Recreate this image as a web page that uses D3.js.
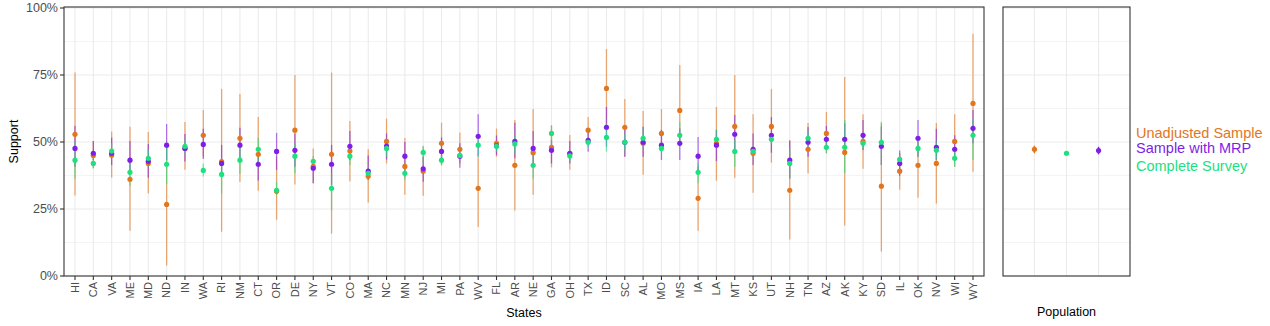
<!DOCTYPE html>
<html>
<head>
<meta charset="utf-8">
<script src="https://cdnjs.cloudflare.com/ajax/libs/d3/7.8.5/d3.min.js"></script>
<style>
  html, body { margin: 0; padding: 0; background: #fff; }
  svg { display: block; font-family: "Liberation Sans", Arial, sans-serif; }
</style>
</head>
<body>
<svg id="chart" width="1270" height="326"></svg>
<script>
// ---------------- data (percent) ----------------
const states = ["HI","CA","VA","ME","MD","ND","IN","WA","RI","NM","CT","OR","DE","NY","VT","CO","MA","NC","MN","NJ",
  "MI","PA","WV","FL","AR","NE","GA","OH","TX","ID","SC","AL","MO","MS","IA","LA","MT","KS","UT","NH",
  "TN","AZ","AK","KY","SD","IL","OK","NV","WI","WY"];

const seriesNames = ["Unadjusted Sample", "Sample with MRP", "Complete Survey"];
// order of the three estimates in the Population panel
const popOrder = ["Unadjusted Sample", "Complete Survey", "Sample with MRP"];

const unadjusted = [52.9,45.0,45.1,36.1,42.0,26.7,47.6,52.5,42.7,51.4, 45.4,31.6,54.4,40.9,45.4,46.6,37.2,50.2,40.9,39.1,
  49.5,47.3,32.7,49.5,41.3,46.0,48.0,45.6,54.4,70.0, 55.5,49.5,53.2,61.8,29.0,49.5,55.8,45.8,55.8,32.0,
  47.3,53.2,46.1,50.2,33.5,39.1,41.3,42.0,50.2,64.4];
const unadjustedLow = [30.0,40.2,36.7,16.9,30.8,3.9,39.6,44.5,16.5,35.1, 31.8,21.0,34.1,34.6,15.8,35.4,27.4,42.0,30.3,29.9,
  41.4,42.0,18.3,44.5,24.4,30.3,40.5,39.6,49.5,56.3, 44.5,37.8,47.0,49.5,16.9,35.6,36.7,31.1,42.3,13.6,
  38.2,45.8,18.8,40.0,9.1,32.2,29.2,27.0,40.8,38.9];
const unadjustedHigh = [75.9,50.4,53.9,55.7,53.7,49.6,57.5,61.9,69.8,67.9, 59.3,44.5,75.0,47.6,75.9,57.8,47.3,58.7,51.5,48.3,
  57.2,53.5,44.3,55.0,58.2,62.3,56.3,52.6,59.3,84.7, 66.0,61.6,62.3,78.7,40.8,63.1,75.0,60.4,69.8,50.7,
  57.1,61.2,74.3,60.4,57.0,45.8,50.7,57.1,60.4,90.4];

const mrp = [47.6,45.8,45.8,43.2,42.8,48.8,47.6,49.1,42.0,48.8, 41.7,46.5,46.9,40.2,41.7,48.4,39.1,48.5,44.7,40.0,
  46.5,44.7,52.1,48.6,50.2,47.6,46.9,45.8,50.6,55.5, 49.9,49.9,48.8,49.5,44.7,48.8,52.9,47.3,52.5,43.2,
  49.9,51.0,51.0,52.5,48.4,42.0,51.4,48.0,47.3,55.1];
const mrpLow = [40.8,43.3,41.4,38.3,36.7,43.3,42.7,43.7,37.1,43.3, 35.6,39.6,40.8,34.6,34.0,43.3,35.8,43.5,37.1,35.2,
  42.0,40.4,44.5,45.1,43.9,40.8,42.0,42.0,46.4,48.3, 44.5,44.5,43.3,43.3,38.3,42.9,46.4,41.4,46.0,36.4,
  44.5,47.0,45.1,47.0,41.4,37.4,44.5,43.3,43.3,49.5];
const mrpHigh = [56.0,50.4,51.6,50.4,49.3,56.7,53.0,54.9,48.9,55.3, 46.4,53.4,53.2,43.5,48.9,54.1,45.0,53.2,50.0,44.5,
  51.7,49.5,60.4,52.4,57.2,54.1,50.7,50.4,53.9,63.1, 55.1,55.7,54.5,55.1,51.9,54.5,60.1,53.2,59.3,50.5,
  55.6,56.0,57.0,58.2,55.7,46.8,58.2,54.9,52.5,61.9];

const survey = [43.2,42.0,46.6,38.7,43.9,41.7,48.4,39.4,37.9,43.2, 47.3,32.0,44.7,42.8,32.7,44.7,38.3,47.6,38.3,46.1,
  43.2,45.0,48.8,48.4,49.3,41.3,53.2,44.8,49.9,51.7, 49.9,51.4,47.6,52.5,38.7,51.0,46.5,46.5,51.0,42.0,
  51.4,48.0,48.0,49.5,49.9,43.5,47.6,46.9,43.9,52.5];
const surveyLow = [36.4,40.2,43.9,33.7,40.8,34.2,45.8,37.1,30.8,38.1, 42.0,30.2,38.3,40.8,24.4,41.4,35.8,44.5,35.8,42.0,
  41.2,43.3,44.5,46.4,45.8,36.4,48.3,42.7,48.3,46.4, 46.5,47.6,45.8,48.3,34.6,48.3,40.8,44.5,49.1,36.4,
  48.3,45.8,38.3,47.0,41.4,41.4,44.5,43.3,40.8,43.3];
const surveyHigh = [50.1,44.5,49.5,43.3,47.0,48.3,50.7,42.0,43.9,48.3, 51.6,35.2,49.5,44.8,38.3,48.3,40.8,50.1,40.2,48.6,
  45.1,46.4,50.7,50.1,52.6,45.8,56.0,47.0,51.5,57.0, 53.2,55.1,49.5,57.5,42.0,54.7,50.7,48.3,53.2,47.6,
  54.3,50.1,58.2,51.6,57.6,45.4,50.7,50.1,46.4,58.2];

// Population panel (Unadjusted, MRP, Complete Survey)
const popEstimate = [47.3, 46.8, 45.8];
const popLow = [45.8, 45.4, 45.8];
const popHigh = [48.6, 48.2, 45.8];

const yTicks = [0, 25, 50, 75, 100];
const yTickLabels = ["0%", "25%", "50%", "75%", "100%"];
const yMinor = [12.5, 37.5, 62.5, 87.5];

// ---------------- styling / layout ----------------
const colors = ["#E2761E", "#7F1EE6", "#1EE07F"];
const svg = d3.select("#chart");
const pTop = 7, pBottom = 276;
const L = {x0: 64, x1: 984};
const R = {x0: 1003, x1: 1130};

const y = d3.scaleLinear().domain([0, 100]).range([pBottom, 8]);
const x = d3.scalePoint().domain(states).range([L.x0, L.x1]).padding(0.6);
const xp = d3.scalePoint().domain(popOrder).range([R.x0, R.x1]).padding(0.98);

function panelGrid(x0, x1, xs) {
  const g = svg.append("g");
  g.selectAll(".minor").data(yMinor).join("line")
    .attr("x1", x0).attr("x2", x1).attr("y1", d => y(d)).attr("y2", d => y(d))
    .attr("stroke", "#EFEFEF").attr("stroke-width", 0.7);
  g.selectAll(".major").data(yTicks).join("line")
    .attr("x1", x0).attr("x2", x1).attr("y1", d => y(d)).attr("y2", d => y(d))
    .attr("stroke", "#EBEBEB").attr("stroke-width", 1.1);
  g.selectAll(".vmaj").data(xs).join("line")
    .attr("x1", d => d).attr("x2", d => d).attr("y1", pTop).attr("y2", pBottom)
    .attr("stroke", "#EBEBEB").attr("stroke-width", 1.1);
  return g;
}

panelGrid(L.x0, L.x1, states.map(s => x(s)));
panelGrid(R.x0, R.x1, popOrder.map(s => xp(s)));

// ---------------- marks: left panel ----------------
const seriesData = [
  {est: unadjusted, lo: unadjustedLow, hi: unadjustedHigh},
  {est: mrp, lo: mrpLow, hi: mrpHigh},
  {est: survey, lo: surveyLow, hi: surveyHigh}
];

seriesData.forEach((s, k) => {
  const rows = states.map((st, i) => ({st, est: s.est[i], lo: s.lo[i], hi: s.hi[i]}));
  svg.append("g").selectAll("line").data(rows).join("line")
    .attr("x1", d => x(d.st)).attr("x2", d => x(d.st))
    .attr("y1", d => y(d.lo)).attr("y2", d => y(d.hi))
    .attr("stroke", colors[k]).attr("stroke-opacity", 0.6).attr("stroke-width", 1.3);
});
seriesData.forEach((s, k) => {
  const rows = states.map((st, i) => ({st, est: s.est[i]}));
  svg.append("g").selectAll("circle").data(rows).join("circle")
    .attr("cx", d => x(d.st)).attr("cy", d => y(d.est)).attr("r", 2.6)
    .attr("fill", colors[k]);
});

// ---------------- marks: right panel ----------------
const popRows = seriesNames.map((n, i) => ({n, est: popEstimate[i], lo: popLow[i], hi: popHigh[i], c: colors[i]}));
svg.append("g").selectAll("line").data(popRows).join("line")
  .attr("x1", d => xp(d.n)).attr("x2", d => xp(d.n))
  .attr("y1", d => y(d.lo)).attr("y2", d => y(d.hi))
  .attr("stroke", d => d.c).attr("stroke-width", 1.5);
svg.append("g").selectAll("circle").data(popRows).join("circle")
  .attr("cx", d => xp(d.n)).attr("cy", d => y(d.est)).attr("r", 2.6)
  .attr("fill", d => d.c);

// ---------------- borders ----------------
[[L.x0, L.x1], [R.x0, R.x1]].forEach(([a, b]) => {
  svg.append("rect").attr("x", a).attr("y", pTop).attr("width", b - a).attr("height", pBottom - pTop)
    .attr("fill", "none").attr("stroke", "#333333").attr("stroke-width", 1.1);
});

// ---------------- axes ----------------
const yAxis = svg.append("g");
yTicks.forEach((t, i) => {
  yAxis.append("line").attr("x1", L.x0 - 4).attr("x2", L.x0).attr("y1", y(t)).attr("y2", y(t))
    .attr("stroke", "#333333").attr("stroke-width", 1.1);
  yAxis.append("text").attr("x", L.x0 - 6).attr("y", y(t)).attr("dy", "0.35em")
    .attr("text-anchor", "end").attr("font-size", 12.5).attr("fill", "#4D4D4D").text(yTickLabels[i]);
});

const xAxis = svg.append("g");
states.forEach(st => {
  xAxis.append("line").attr("x1", x(st)).attr("x2", x(st)).attr("y1", pBottom).attr("y2", pBottom + 4)
    .attr("stroke", "#333333").attr("stroke-width", 1.1);
  xAxis.append("text")
    .attr("transform", `translate(${x(st)},${pBottom + 6}) rotate(-90)`)
    .attr("dy", "0.35em").attr("text-anchor", "end")
    .attr("font-size", 11).attr("fill", "#4D4D4D").text(st);
});

svg.append("text").attr("transform", `translate(18,${(pTop + pBottom) / 2}) rotate(-90)`)
  .attr("text-anchor", "middle").attr("font-size", 12.5).attr("fill", "#000").text("Support");
svg.append("text").attr("x", (L.x0 + L.x1) / 2).attr("y", 317)
  .attr("text-anchor", "middle").attr("font-size", 12.5).attr("fill", "#000").text("States");
svg.append("text").attr("x", (R.x0 + R.x1) / 2).attr("y", 316)
  .attr("text-anchor", "middle").attr("font-size", 12.5).attr("fill", "#000").text("Population");

// ---------------- legend (text only) ----------------
const legendY = [138, 153, 170.5];
seriesNames.forEach((n, i) => {
  svg.append("text").attr("x", 1136).attr("y", legendY[i])
    .attr("font-size", 14.5).attr("fill", colors[i]).text(n);
});
</script>
</body>
</html>
